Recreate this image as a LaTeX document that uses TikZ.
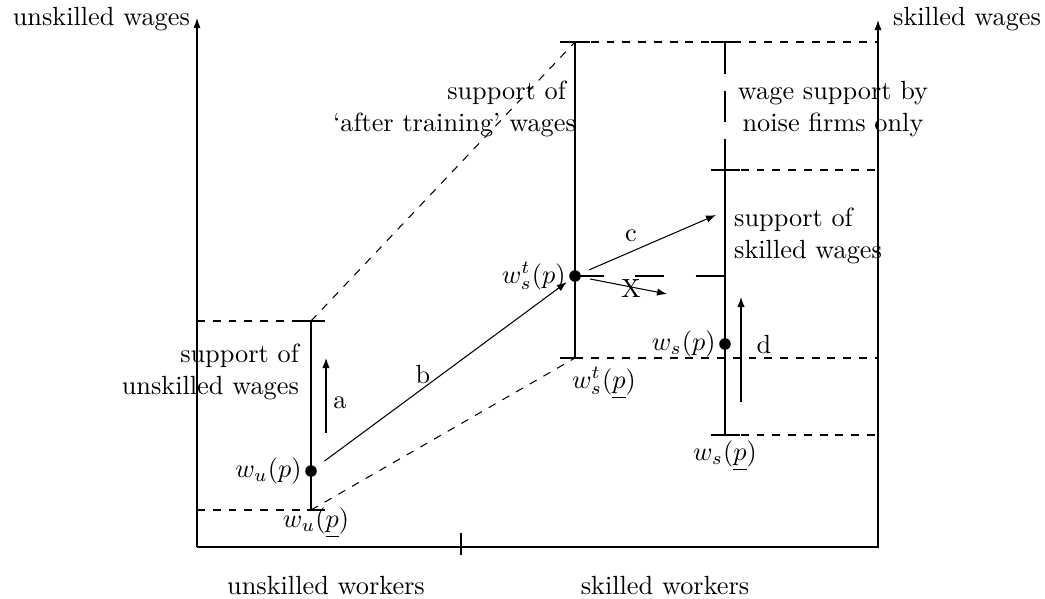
\documentclass[tikz,border=0pt]{standalone}
\usepackage{amsmath}
\usetikzlibrary{arrows.meta,positioning,calc}
\begin{document}
\begin{tikzpicture}[
  x=0.01336cm, y=-0.01336cm,
  lbl/.style={inner sep=1pt},
  axis/.style={-{Latex[length=3.8pt, width=2.7pt]}},
  arrow/.style={-{Latex[length=3.8pt, width=2.8pt]}},
  guide/.style={dashed},
  longdash/.style={dash pattern=on 11pt off 12pt},
  noisedash/.style={dash pattern=on 12pt off 6.5pt},
  dot/.style={circle, fill, inner sep=0pt, minimum size=4.4pt}
]
\useasboundingbox (0,0) rectangle (1045,598);
% axes
\coordinate (origin) at (197,547);
\coordinate (corner) at (878,547);
\coordinate (ytopL) at (197,18);
\coordinate (ytopR) at (878,20);
\coordinate (split) at (461,547);
\draw[axis] (origin) -- (ytopL);
\draw[axis] (origin) -- (corner) -- (ytopR);
\draw ($(split)+(0,-14)$) -- ($(split)+(0,8)$);
\node[lbl, anchor=east] (ylabL) at (193,19) {unskilled wages};
\node[lbl, anchor=west] (ylabR) at (890,19) {skilled wages};
\node[lbl] (xlabL) at (326,586) {unskilled workers};
\node[lbl] (xlabR) at (665,586) {skilled workers};
% unskilled support
\coordinate (uLow) at (311,510);
\coordinate (uHigh) at (311,321);
\draw (uLow) -- (uHigh);
\draw ($(uLow)+(-2,0)$) -- ($(uLow)+(14,0)$);
\draw ($(uHigh)+(-12,0)$) -- ($(uHigh)+(14,0)$);
\draw[guide] (uLow -| origin) -- (uLow);
\draw[guide] (uHigh -| origin) -- (uHigh);
\node[dot] (wu) at (311,471) {};
\node[lbl, left=0pt of wu] {$w_u(p)$};
\node[lbl] (wuLow) at (316,523) {$w_u(\underline{p})$};
\node[lbl, anchor=east, align=right] (usupp) at (302,372)
  {support of\\unskilled wages};
% after training support
\coordinate (tLow) at (575,358);
\coordinate (tHigh) at (575,42);
\draw (tLow) -- (tHigh);
\draw ($(tLow)+(-15,0)$) -- ($(tLow)+(5,0)$);
\draw ($(tHigh)+(-15,0)$) -- ($(tHigh)+(15,0)$);
\draw[guide] (uHigh) -- (tHigh);
\draw[guide] (uLow) -- (tLow);
\draw[guide] (tHigh) -- (tHigh -| corner);
\draw[guide] (tLow) -- (tLow -| corner);
\node[dot] (wt) at (575,276) {};
\node[lbl, left=0pt of wt] {$w_s^t(p)$};
\node[lbl] (wtLow) at (604,383) {$w_s^t(\underline{p})$};
\node[lbl, anchor=east, align=right] (tsupp) at (579,109)
  {support of\hspace*{3.8pt}\\`after training' wages};
% skilled support
\coordinate (sLow) at (725,435);
\coordinate (sHigh) at (725,170);
\coordinate (nTop) at (725,42);
\draw (sLow) -- (sHigh);
\draw[noisedash] (nTop) -- (sHigh);
\foreach \p in {sLow, sHigh, nTop}
  \draw ($(\p)+(-14,0)$) -- ($(\p)+(15,0)$);
\draw[guide] (sHigh) -- (sHigh -| corner);
\draw[guide] (sLow) -- (sLow -| corner);
\node[dot] (ws) at (725,344) {};
\node[lbl, left=0pt of ws] {$w_s(p)$};
\node[lbl] (wsLow) at (725,456) {$w_s(\underline{p})$};
\node[lbl, anchor=west, align=left] (ssupp) at (731,236)
  {support of\\skilled wages};
\node[lbl, align=center] (nsupp) at (833,109)
  {wage support by\\noise firms only};
\draw[longdash] (wt.center) -- (wt -| ws);
% moves
\coordinate (aFrom) at (326,433);
\coordinate (aTo) at (326,358);
\coordinate (cTo) at (716,215);
\coordinate (xTo) at (667,294);
\coordinate (dFrom) at (741,402);
\coordinate (dTo) at (741,297);
\draw[arrow] (aFrom) -- (aTo);
\draw[arrow, shorten <=4pt, shorten >=1.5pt] (wu) -- (wt);
\draw[arrow, shorten <=3.5pt] (wt) -- (cTo);
\draw[arrow, shorten <=3.5pt] (wt) -- (xTo);
\draw[arrow] (dFrom) -- (dTo);
\node[lbl] (aLab) at (340,403) {a};
\node[lbl] (bLab) at (423,375) {b};
\node[lbl] (cLab) at (631,236) {c};
\node[lbl] (xLab) at (631,289) {X};
\node[lbl] (dLab) at (764,345) {d};
\end{tikzpicture}
\end{document}
